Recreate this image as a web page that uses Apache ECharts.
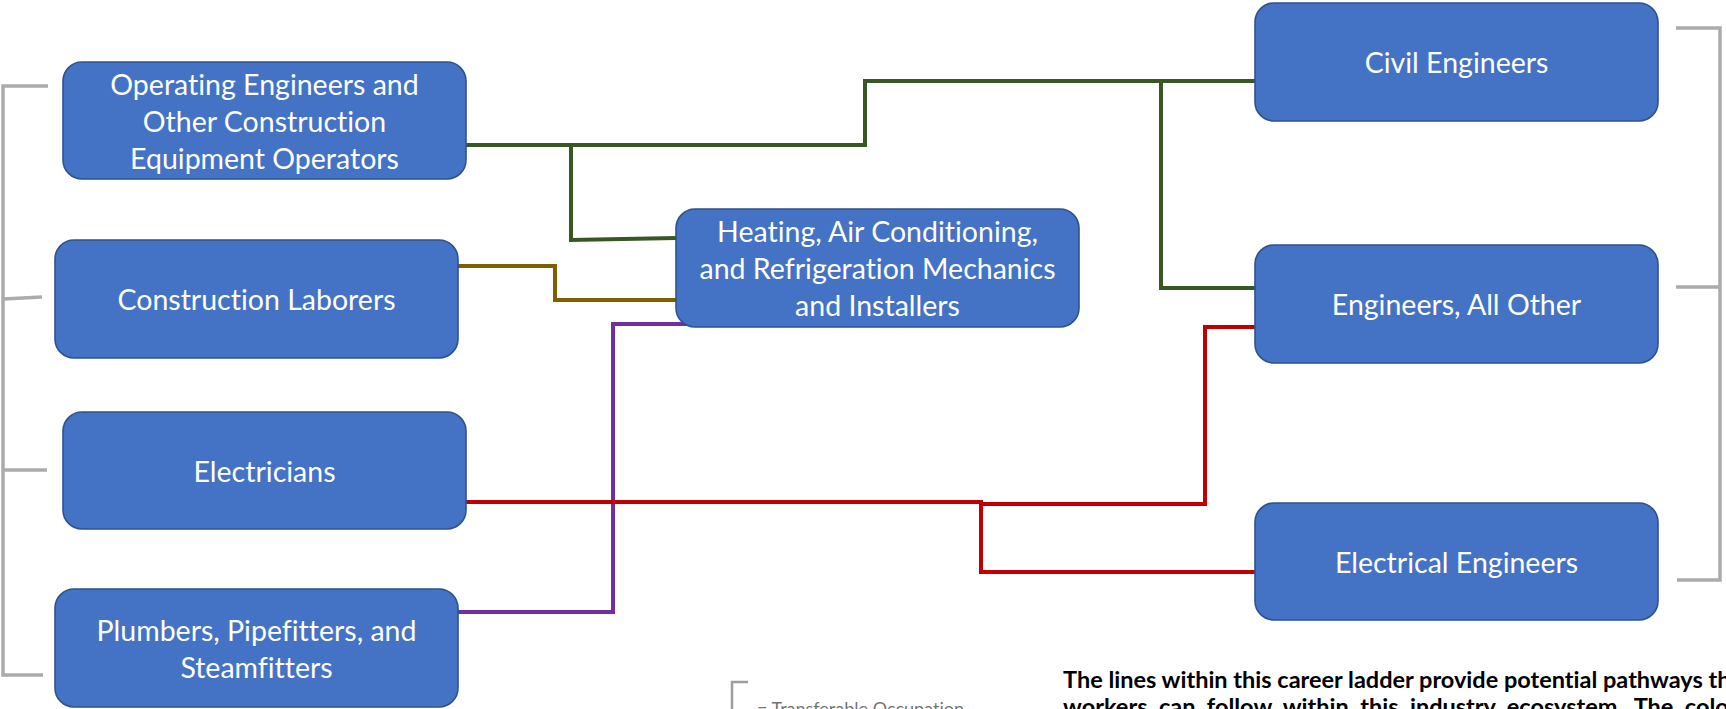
<!DOCTYPE html>
<html>
<head>
<meta charset="utf-8">
<script src="https://cdn.jsdelivr.net/npm/echarts@6/dist/echarts.min.js"></script>
<style>
html,body{margin:0;padding:0;background:#ffffff;overflow:hidden;}
#chart{width:1726px;height:709px;}
#chart text{font-variant-ligatures:none !important;font-feature-settings:"liga" 0,"clig" 0,"dlig" 0 !important;}
</style>
</head>
<body>
<div id="chart"></div>
<script>
// ---------- DATA ----------
const occupations = [
  'Operating Engineers and\nOther Construction\nEquipment Operators',
  'Construction Laborers',
  'Electricians',
  'Plumbers, Pipefitters, and\nSteamfitters',
  'Heating, Air Conditioning,\nand Refrigeration Mechanics\nand Installers',
  'Civil Engineers',
  'Engineers, All Other',
  'Electrical Engineers'
];
// pathways: [from occupation index, to occupation index, colour group]
const pathways = [
  [0, 5, 'green'],
  [0, 4, 'green'],
  [5, 6, 'green'],
  [1, 4, 'brown'],
  [3, 4, 'purple'],
  [2, 6, 'red'],
  [2, 7, 'red']
];
const transferableGroups = [[0, 1, 2, 3], [5, 6, 7]];
const legendText = '= Transferable Occupation';
const noteLines = [
  'The lines within this career ladder provide potential pathways that',
  'workers  can  follow  within  this  industry  ecosystem.  The  colors  are'
];

// ---------- LAYOUT (diagram units) ----------
const boxes = [
  [63, 62, 466, 179],
  [55, 240, 458, 358],
  [63, 412, 466, 529],
  [55, 589, 458, 707],
  [676, 209, 1079, 327],
  [1255, 3, 1658, 121],
  [1255, 245, 1658, 363],
  [1255, 503, 1658, 620]
];
const routes = [
  [[466, 145], [865, 145], [865, 81], [1255, 81]],
  [[571, 145], [571, 240], [676, 238]],
  [[1161, 83], [1161, 288], [1255, 288]],
  [[458, 266], [555, 266], [555, 300], [676, 300]],
  [[458, 612], [613, 612], [613, 324], [692, 324]],
  [[466, 502], [981, 502], [981, 504], [1205, 504], [1205, 327], [1255, 327]],
  [[981, 502], [981, 572], [1255, 572]]
];
const bracketRoutes = [
  [[48, 86], [3, 86], [3, 675], [43, 675]],
  [[3, 299], [42, 297]],
  [[3, 470], [47, 470]],
  [[1676, 28], [1720, 28], [1720, 580], [1677, 580]],
  [[1676, 287], [1720, 287]]
];
const legendBracket = [[748, 682], [732, 682], [732, 715]];

const colorMap = {green: '#385723', brown: '#7F6000', purple: '#7030A0', red: '#C00000'};

// ---------- CHART ----------
const chart = echarts.init(document.getElementById('chart'), null, {renderer: 'svg'});

const boxData = boxes.map((b, i) => [b[0], b[1], b[2], b[3], i]);

const option = {
  animation: false,
  backgroundColor: '#ffffff',
  grid: {left: 0, right: 0, top: 0, bottom: 0, containLabel: false},
  xAxis: {type: 'value', min: 0, max: 1726, show: false},
  yAxis: {type: 'value', min: 0, max: 709, inverse: true, show: false},
  series: [
    {
      type: 'lines',
      coordinateSystem: 'cartesian2d',
      polyline: true,
      silent: true,
      z: 2,
      lineStyle: {width: 4, opacity: 1, cap: 'butt', join: 'miter'},
      data: pathways.map((p, i) => ({
        name: occupations[p[0]] + ' -> ' + occupations[p[1]],
        coords: routes[i],
        lineStyle: {color: colorMap[p[2]]}
      }))
    },
    {
      type: 'lines',
      coordinateSystem: 'cartesian2d',
      polyline: true,
      silent: true,
      z: 2,
      lineStyle: {width: 3.5, opacity: 1, color: '#ABABAB', cap: 'butt', join: 'miter'},
      data: bracketRoutes.map(c => ({coords: c}))
    },
    {
      type: 'lines',
      coordinateSystem: 'cartesian2d',
      polyline: true,
      silent: true,
      z: 2,
      lineStyle: {width: 2.5, opacity: 0.85, color: '#8C8C8C', cap: 'butt', join: 'miter'},
      data: [{coords: legendBracket}]
    },
    {
      type: 'custom',
      coordinateSystem: 'cartesian2d',
      silent: true,
      z: 5,
      clip: false,
      data: boxData,
      renderItem: function (params, api) {
        const p0 = api.coord([api.value(0), api.value(1)]);
        const p1 = api.coord([api.value(2), api.value(3)]);
        const idx = api.value(4);
        return {
          type: 'rect',
          shape: {x: p0[0], y: p0[1], width: p1[0] - p0[0], height: p1[1] - p0[1], r: 19},
          style: {fill: '#4472C4', stroke: '#2F528F', lineWidth: 1.6},
          textContent: {
            style: {
              text: occupations[idx],
              fill: '#ffffff',
              fontFamily: 'Lato',
              fontSize: 28.5,
              lineHeight: 37,
              align: 'center',
              verticalAlign: 'middle'
            }
          },
          textConfig: {position: 'inside', offset: [0, 0]}
        };
      }
    }
  ],
  graphic: [
    {
      type: 'text',
      left: 757,
      top: 699,
      style: {text: legendText, fill: '#595959', font: '18px Lato', opacity: 0.85}
    },
    {
      type: 'text',
      left: 1063,
      top: 667,
      style: {text: noteLines[0], fill: '#000000', font: 'bold 23.5px Lato'}
    },
    {
      type: 'text',
      left: 1063,
      top: 694,
      style: {text: noteLines[1], fill: '#000000', font: 'bold 23.5px Lato'}
    }
  ]
};
chart.setOption(option);
</script>
</body>
</html>
